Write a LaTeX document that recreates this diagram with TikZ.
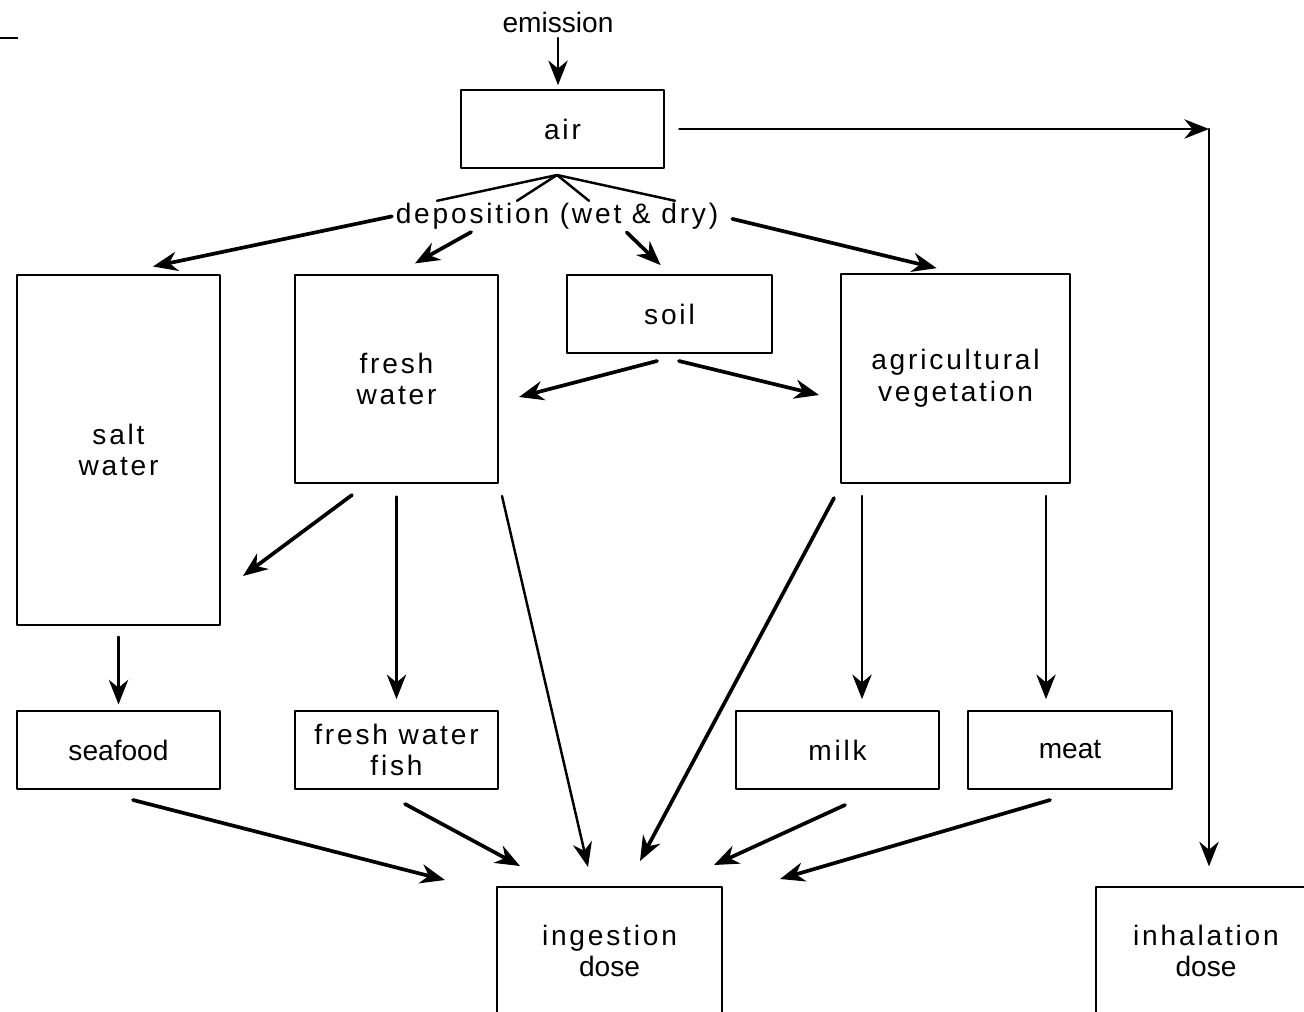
\documentclass[tikz,border=0pt]{standalone}
\usepackage{fontspec}
\setmainfont{Liberation Sans}[LetterSpace=10]
\newfontfamily\plainsans{Liberation Sans}
\usetikzlibrary{arrows.meta}

\begin{document}
\begin{tikzpicture}[x=0.02cm,y=-0.02cm,line cap=round,line join=round,
    >={Stealth[length=14pt,width=11pt,inset=4.5pt]},
    box/.style={draw,line width=1.5pt,align=center,inner sep=0pt,
      minimum width=4.06cm,minimum height=1.56cm,font=\fontsize{16}{18}\selectfont},
    txt/.style={align=center,inner sep=1pt,font=\fontsize{16}{18}\selectfont},
    nospace/.style={font=\plainsans\fontsize{16}{18}\selectfont},
    flow/.style={->,line width=2.1pt},
    slimflow/.style={->,line width=1.4pt},
    fan/.style={line width=1.4pt}]
  \useasboundingbox (0,0) rectangle (1304,1011);
  \clip (0,0) rectangle (1304,1011);
  \draw[line width=1.3pt,line cap=butt] (0,38) -- (18,38);
  % compartments
  \node[txt,nospace] (emis) at (558,22) {emission};
  \node[box] (air) at (562.5,129) {air};
  \node[txt] (depo) at (557,216) {deposition (wet \& dry)};
  \node[box,minimum height=7cm] (salt) at (118.5,450) {salt\\water};
  \node[box,minimum height=4.16cm] (fresh) at (396.5,379) {fresh\\water};
  \node[box,minimum width=4.1cm] (soil) at (669.5,314) {soil};
  \node[box,minimum width=4.58cm,minimum height=4.18cm] (agri) at (955.5,378.5) {agricultural\\vegetation};
  \node[box,nospace] (seafood) at (118.5,750) {seafood};
  \node[box] (fish) at (396.5,750) {fresh water\\fish};
  \node[box] (milk) at (837.5,750) {milk};
  \node[box,nospace,minimum width=4.08cm] (meat) at (1070,750) {meat};
  \node[box,minimum width=4.5cm,minimum height=2.56cm] (ingest) at (609.5,951) {ingestion\\{\plainsans dose}};
  \node[box,minimum width=4.4cm,minimum height=2.56cm] (inhal) at (1206,951) {inhalation\\{\plainsans dose}};
  % free ends of the connectors
  \coordinate (bend) at (1209,129);
  \coordinate (apex) at (557,175);
  \coordinate (soilL) at (657,361);
  \coordinate (freshR) at (519,397);
  \coordinate (soilR) at (679,361);
  \coordinate (agriL) at (819,395);
  \coordinate (freshSW) at (352,495);
  \coordinate (saltE) at (243,576);
  \coordinate (freshSE) at (502,496);
  \coordinate (agriSW) at (834,498);
  \coordinate (agriM) at (862,496);
  \coordinate (agriR) at (1046,496);
  \coordinate (sfOut) at (133,800);
  \coordinate (fishOut) at (405,804);
  \coordinate (milkOut) at (845,805);
  \coordinate (meatOut) at (1050,800);
  \coordinate (ingA) at (588,867);
  \coordinate (ingB) at (640,861);
  \coordinate (ingC) at (445,880);
  \coordinate (ingD) at (520,866);
  \coordinate (ingE) at (714,865);
  \coordinate (ingF) at (780,879);
  % air
  \draw[slimflow,shorten <=2pt,shorten >=2pt] (emis.south) -- (emis.south |- air.north);
  \draw[slimflow,shorten <=8pt] (air.east) -- (bend);
  \draw[slimflow,shorten >=11pt] (bend) -- (bend |- inhal.north);
  \foreach \fx in {437,517,589,675}
    \draw[fan] (apex) -- (\fx,0 |- depo.north);
  % deposition
  \draw[flow,shorten <=1pt,shorten >=20pt] (depo.west) -- (salt.north);
  \draw[flow,shorten <=1pt,shorten >=12pt] ([xshift=-48pt]depo.south) -- (fresh.north);
  \draw[flow,shorten <=1pt,shorten >=7pt] ([xshift=39pt]depo.south) -- (soil.north);
  \draw[flow,shorten <=7pt,shorten >=11pt] (depo.east) -- (agri.north);
  % soil
  \draw[flow] (soilL) -- (freshR);
  \draw[flow] (soilR) -- (agriL);
  % water and vegetation
  \draw[flow] (freshSW) -- (saltE);
  \draw[slimflow,shorten <=6pt,shorten >=3pt] (salt.south) -- (seafood.north);
  \draw[slimflow,shorten <=7pt,shorten >=6pt] (fresh.south) -- (fish.north);
  \draw[slimflow] (freshSE) -- (ingA);
  \draw[flow] (agriSW) -- (ingB);
  \draw[slimflow,shorten >=6pt] (agriM) -- (agriM |- milk.north);
  \draw[slimflow,shorten >=6pt] (agriR) -- (agriR |- meat.north);
  % food to ingestion
  \draw[flow] (sfOut) -- (ingC);
  \draw[flow] (fishOut) -- (ingD);
  \draw[flow] (milkOut) -- (ingE);
  \draw[flow] (meatOut) -- (ingF);
\end{tikzpicture}
\end{document}
